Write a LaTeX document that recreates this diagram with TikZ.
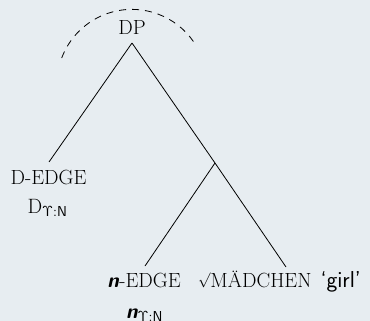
\documentclass[tikz,border=0pt]{standalone}
\usepackage{graphicx}
\definecolor{paper}{RGB}{231,237,241}
\begin{document}
\begin{tikzpicture}[x=1pt,y=-1pt,
  every node/.style={inner sep=0pt,outer sep=0pt,font=\fontsize{20.5}{24}\selectfont},
  branch/.style={line width=0.8pt,black},
  halo/.style={line width=0.8pt,dash pattern=on 7pt off 6pt},
  lbl/.style={anchor=base}]
  \fill[paper] (0,0) rectangle (370,321);
  \useasboundingbox (0,0) rectangle (370,321);
  % root label and dashed arc over it
  \node[lbl] (dp) at (132,34.5) {DP};
  \draw[halo] (61.7,58) arc[start angle=-159.4,end angle=-34.6,radius=75];
  % branching points
  \coordinate (top) at (132,43);
  \coordinate (mid) at (215,163);
  \coordinate (dend) at (49,162);
  \coordinate (nend) at (145,266);
  \coordinate (rend) at (286,267);
  \draw[branch] (top) -- (dend);
  \draw[branch] (top) -- (mid);
  \draw[branch] (mid) -- (nend);
  \draw[branch] (mid) -- (rend);
  % leaves
  \node[lbl] (dedge) at (48.5,185) {D-EDGE};
  \node[lbl] (dsub) at (47.5,213) {$\mathrm{D}_{\mathsf{\Upsilon:N}}$};
  \node[lbl] (nedge) at (144,287.7) {\textsf{\bfseries\itshape n}-EDGE};
  \node[lbl] (nsub) at (144.5,318.5) {$\textsf{\bfseries\itshape n}_{\mathsf{\Upsilon:N}}$};
  \node[lbl,anchor=base west] (root) at (198,287.7) {\raisebox{\depth}{\scalebox{0.72}{$\surd$}}MÄDCHEN\hspace{9pt}\textsf{\fontsize{23}{27}\selectfont‘girl’}};
\end{tikzpicture}
\end{document}
